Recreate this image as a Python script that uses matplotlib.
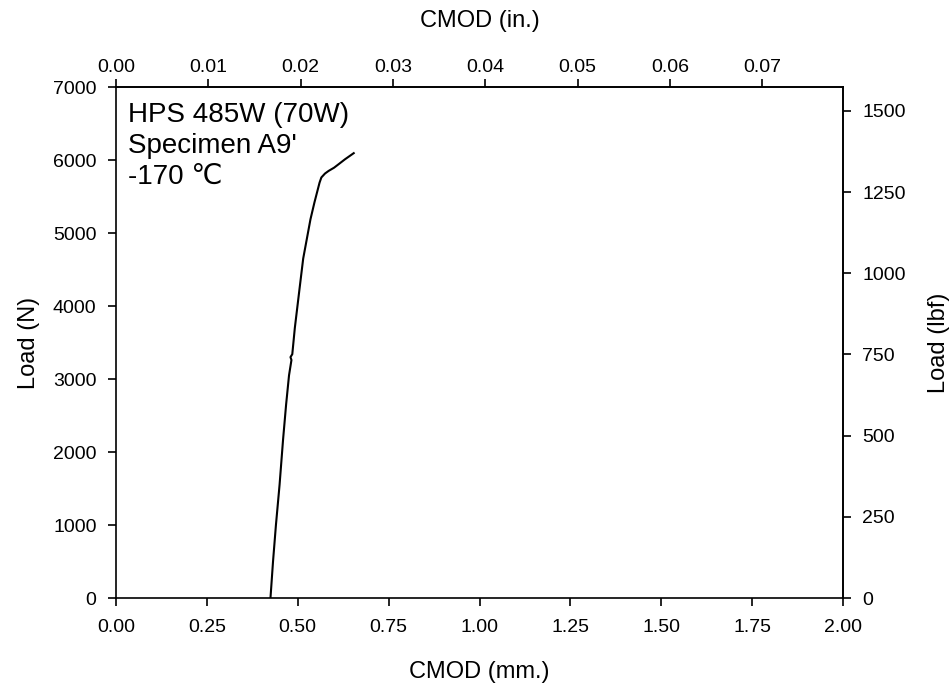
import matplotlib
matplotlib.use("Agg")
import matplotlib.pyplot as plt
import numpy as np

plt.rcParams['font.family'] = ['Liberation Sans', 'DejaVu Sans']

# Load vs crack-mouth opening displacement
cmod_mm = [0.425, 0.432, 0.440, 0.450, 0.4596, 0.468, 0.476, 0.4827, 0.4800, 0.4850,
           0.492, 0.5047, 0.515, 0.535, 0.546, 0.553, 0.560, 0.565, 0.575,
           0.585, 0.600, 0.6126, 0.630, 0.654]
load_n = [0, 500, 1000, 1550, 2169, 2650, 3050, 3260, 3300, 3340,
          3700, 4227, 4650, 5188, 5420, 5555, 5690, 5761, 5815,
          5851, 5895, 5943, 6010, 6094]

x_ticks_mm = [0.00, 0.25, 0.50, 0.75, 1.00, 1.25, 1.50, 1.75, 2.00]
y_ticks_n = [0, 1000, 2000, 3000, 4000, 5000, 6000, 7000]
x_ticks_in = [0.00, 0.01, 0.02, 0.03, 0.04, 0.05, 0.06, 0.07]
y_ticks_lbf = [0, 250, 500, 750, 1000, 1250, 1500]

MM_PER_IN = 25.4
N_PER_LBF = 4.44822

TICK_FS = 14
LABEL_FS = 17

fig = plt.figure(figsize=(9.53, 6.90), dpi=100)
ax = fig.add_axes([0.1217, 0.1333, 0.8846 - 0.1217, 0.8739 - 0.1333])

ax.plot(cmod_mm, load_n, color='black', lw=1.5)

ax.set_xlim(0, 2.0)
ax.set_ylim(0, 7000)
ax.set_xticks(x_ticks_mm)
ax.set_xticklabels([f"{v:.2f}" for v in x_ticks_mm])
ax.set_yticks(y_ticks_n)
ax.set_xlabel("CMOD (mm.)", fontsize=LABEL_FS, labelpad=18)
ax.set_ylabel("Load (N)", fontsize=LABEL_FS, labelpad=9)
ax.tick_params(axis='x', direction='out', length=6, width=1.2, labelsize=TICK_FS, pad=9)
ax.tick_params(axis='y', direction='out', length=6, width=1.2, labelsize=TICK_FS, pad=8)
for s in ax.spines.values():
    s.set_linewidth(1.2)

top = ax.secondary_xaxis('top', functions=(lambda x: x / MM_PER_IN, lambda x: x * MM_PER_IN))
top.set_xticks(x_ticks_in)
top.set_xticklabels([f"{v:.2f}" for v in x_ticks_in])
top.set_xlabel("CMOD (in.)", fontsize=LABEL_FS, labelpad=23)
top.tick_params(direction='out', length=6, width=1.2, labelsize=TICK_FS, pad=2)
top.spines['top'].set_linewidth(1.2)

right = ax.secondary_yaxis('right', functions=(lambda y: y / N_PER_LBF, lambda y: y * N_PER_LBF))
right.set_yticks(y_ticks_lbf)
right.set_ylabel("Load (lbf)", fontsize=LABEL_FS, labelpad=16)
right.tick_params(direction='out', length=6, width=1.2, labelsize=TICK_FS, pad=8)
right.spines['right'].set_linewidth(1.2)

ax.text(0.016, 0.970, "HPS 485W (70W)\nSpecimen A9'\n-170 ℃", transform=ax.transAxes,
        ha='left', va='top', fontsize=20, linespacing=1.25)

fig.savefig("out.png", dpi=100)
